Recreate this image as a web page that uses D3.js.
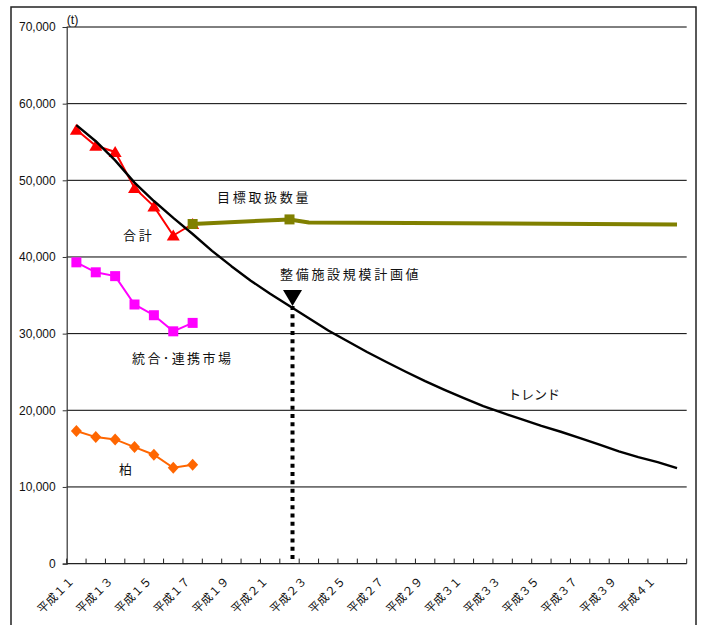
<!DOCTYPE html>
<html>
<head>
<meta charset="utf-8">
<script src="https://cdn.jsdelivr.net/npm/d3@7"></script>
<style>
  html, body { margin: 0; padding: 0; background: #fff; }
  svg { display: block; }
</style>
</head>
<body>
<svg id="chart" width="705" height="625"></svg>
<script>
// Fiscal years on the category axis (平成11 – 平成42)
const years = [
  "平成１１","平成１２","平成１３","平成１４","平成１５","平成１６","平成１７","平成１８",
  "平成１９","平成２０","平成２１","平成２２","平成２３","平成２４","平成２５","平成２６",
  "平成２７","平成２８","平成２９","平成３０","平成３１","平成３２","平成３３","平成３４",
  "平成３５","平成３６","平成３７","平成３８","平成３９","平成４０","平成４１","平成４２"
];

// Actual handling volume (t), 平成11 – 平成17
const actualYears = ["平成１１","平成１２","平成１３","平成１４","平成１５","平成１６","平成１７"];
const totalVals      = [56600, 54500, 53700, 49000, 46600, 42800, 44300]; // 合計
const integratedVals = [39300, 38000, 37500, 33800, 32400, 30300, 31400]; // 統合･連携市場
const kashiwaVals    = [17300, 16500, 16200, 15200, 14200, 12500, 12900]; // 柏

// Target handling volume (目標取扱数量)
const targetYears  = ["平成１７","平成２２","平成２３","平成４２"];
const targetVals   = [44300, 44900, 44500, 44250];
const targetMarked = ["平成１７","平成２２"];

// Trend projection, one value per year
const trendVals = [
  57200, 55100, 52600, 49700, 47300, 45100, 43000, 40800,
  38800, 36900, 35200, 33600, 32000, 30400, 29000, 27600,
  26300, 25030, 23810, 22670, 21580, 20550, 19650, 18800,
  17960, 17200, 16380, 15520, 14650, 13880, 13230, 12450
];

// Planned facility scale (整備施設規模計画値)
const planYear = "平成２２";

// Value axis
const yTicks = [0, 10000, 20000, 30000, 40000, 50000, 60000, 70000];

const svg = d3.select("#chart");
const jp = "'Noto Sans CJK JP', 'Noto Sans', sans-serif";
const latin = "'Liberation Sans', Arial, sans-serif";

const plot = { left: 66.7, right: 686.7, top: 27, bottom: 563.6 };

const x = d3.scaleBand().domain(years).range([plot.left, plot.right]).padding(0);
const y = d3.scaleLinear().domain([0, 70000]).range([plot.bottom, plot.top]);
const cx = d => x(d) + x.bandwidth() / 2;

// outer frame
svg.append("rect")
  .attr("x", 11).attr("y", 7).attr("width", 685).attr("height", 700)
  .attr("fill", "#fff").attr("stroke", "#222").attr("stroke-width", 1.5);

// horizontal gridlines
svg.append("g").selectAll("line")
  .data(yTicks.filter(v => v > 0))
  .join("line")
  .attr("x1", plot.left).attr("x2", plot.right)
  .attr("y1", d => y(d)).attr("y2", d => y(d))
  .attr("stroke", "#000").attr("stroke-width", 1);

// value axis
const yAxis = d3.axisLeft(y).tickValues(yTicks).tickSize(4).tickPadding(7)
  .tickFormat(d3.format(","));
const gy = svg.append("g").attr("transform", `translate(${plot.left},0)`).call(yAxis);
gy.attr("font-size", null).attr("font-family", null);
gy.select(".domain").attr("stroke", "#333").attr("stroke-width", 1.2);
gy.selectAll(".tick line").attr("stroke", "#333");
gy.selectAll(".tick text")
  .style("font-family", latin).style("font-size", "12px").attr("fill", "#111");

svg.append("text")
  .attr("x", plot.left).attr("y", 24)
  .style("font-family", latin).style("font-size", "12.5px").attr("fill", "#111")
  .text("(t)");

// category axis: line plus inward ticks at every band boundary
svg.append("line")
  .attr("x1", plot.left).attr("x2", plot.right)
  .attr("y1", plot.bottom).attr("y2", plot.bottom)
  .attr("stroke", "#222").attr("stroke-width", 1.3);
svg.append("g").selectAll("line")
  .data(years.map(d => x(d)).concat([plot.right]))
  .join("line")
  .attr("x1", d => d).attr("x2", d => d)
  .attr("y1", plot.bottom).attr("y2", plot.bottom - 5)
  .attr("stroke", "#222").attr("stroke-width", 1);

// rotated year labels on every other year
svg.append("g").selectAll("text")
  .data(years.filter((d, i) => i % 2 === 0))
  .join("text")
  .attr("transform", d => `translate(${cx(d) - 8},575) rotate(-45)`)
  .attr("text-anchor", "end")
  .attr("dy", "0.8em")
  .style("font-family", jp).style("font-size", "11.5px").attr("fill", "#111")
  .text(d => d);

const line = d3.line().x(d => cx(d[0])).y(d => y(d[1]));

// 合計
const totalPts = d3.zip(actualYears, totalVals);
svg.append("path").datum(totalPts).attr("d", line)
  .attr("fill", "none").attr("stroke", "#ff0000").attr("stroke-width", 2);
svg.append("g").selectAll("path").data(totalPts).join("path")
  .attr("d", "M0,-6L6.5,5L-6.5,5Z")
  .attr("transform", d => `translate(${cx(d[0])},${y(d[1])})`)
  .attr("fill", "#ff0000");

// 統合･連携市場
const integPts = d3.zip(actualYears, integratedVals);
svg.append("path").datum(integPts).attr("d", line)
  .attr("fill", "none").attr("stroke", "#ff00ff").attr("stroke-width", 2);
svg.append("g").selectAll("rect").data(integPts).join("rect")
  .attr("x", d => cx(d[0]) - 5).attr("y", d => y(d[1]) - 5)
  .attr("width", 10).attr("height", 10)
  .attr("fill", "#ff00ff");

// 柏
const kashiwaPts = d3.zip(actualYears, kashiwaVals);
svg.append("path").datum(kashiwaPts).attr("d", line)
  .attr("fill", "none").attr("stroke", "#ff6600").attr("stroke-width", 2);
svg.append("g").selectAll("path").data(kashiwaPts).join("path")
  .attr("d", "M0,-6L5.5,0L0,6L-5.5,0Z")
  .attr("transform", d => `translate(${cx(d[0])},${y(d[1])})`)
  .attr("fill", "#ff6600");

// トレンド
const trendPts = d3.zip(years, trendVals);
svg.append("path").datum(trendPts).attr("d", line)
  .attr("fill", "none").attr("stroke", "#000").attr("stroke-width", 2.4)
  .attr("stroke-linejoin", "round");

// 目標取扱数量
const targetPts = d3.zip(targetYears, targetVals);
svg.append("path").datum(targetPts).attr("d", line)
  .attr("fill", "none").attr("stroke", "#808000").attr("stroke-width", 4)
  .attr("stroke-linejoin", "round");
svg.append("g").selectAll("rect")
  .data(targetPts.filter(d => targetMarked.includes(d[0])))
  .join("rect")
  .attr("x", d => cx(d[0]) - 5).attr("y", d => y(d[1]) - 5)
  .attr("width", 10).attr("height", 10)
  .attr("fill", "#808000");

// 整備施設規模計画値: marker on the trend line with a dotted drop line
const planIdx = years.indexOf(planYear);
const px = cx(planYear) + 3;
const py = y(trendVals[planIdx]);
svg.append("line")
  .attr("x1", px).attr("x2", px)
  .attr("y1", py).attr("y2", plot.bottom)
  .attr("stroke", "#000").attr("stroke-width", 4)
  .attr("stroke-dasharray", "4,4.3");
svg.append("path")
  .attr("d", "M-9.5,-16L9.5,-16L0,0Z")
  .attr("transform", `translate(${px},${py})`)
  .attr("fill", "#000");

// series captions
const captions = [
  { text: "目標取扱数量", x: 217, y: 202, ls: 2.7 },
  { text: "整備施設規模計画値", x: 280, y: 278.5, ls: 2.7 },
  { text: "合計", x: 123, y: 240, ls: 2.7 },
  { text: "統合･連携市場", x: 132, y: 363, ls: 2.4 },
  { text: "柏", x: 119, y: 474, ls: 0 },
  { text: "トレンド", x: 508, y: 399, ls: 0 }
];
svg.append("g").selectAll("text").data(captions).join("text")
  .attr("x", d => d.x).attr("y", d => d.y)
  .style("font-family", jp).style("font-size", "13px").attr("fill", "#111")
  .attr("letter-spacing", d => d.ls)
  .text(d => d.text);
</script>
</body>
</html>
